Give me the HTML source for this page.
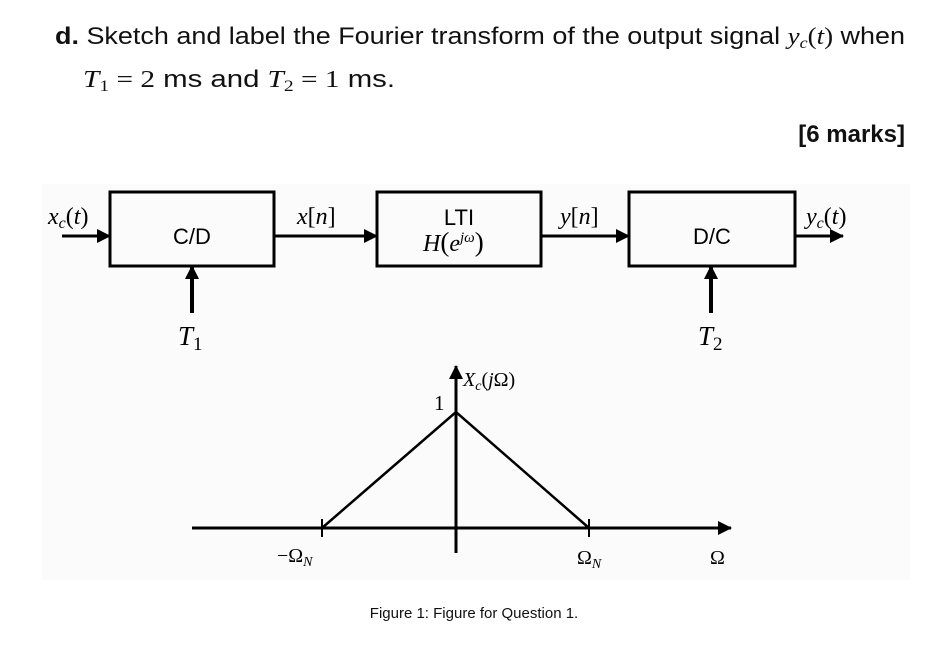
<!DOCTYPE html>
<html><head><style>
body{margin:0;width:949px;height:646px;background:#fff;overflow:hidden;font-family:"Liberation Sans",sans-serif;}
svg{position:absolute;left:0;top:0}
</style></head><body>
<svg width="949" height="646" viewBox="0 0 949 646">
<defs>
<marker id="b" markerWidth="14" markerHeight="14" refX="13" refY="7" orient="auto" markerUnits="userSpaceOnUse"><path d="M0,0 L14,7 L0,14z" fill="#000"/></marker></defs>
<g font-size="24" fill="#111">
<text x="55" y="44" textLength="850" lengthAdjust="spacingAndGlyphs"><tspan font-weight="bold">d.</tspan> Sketch and label the Fourier transform of the output signal <tspan font-family="Liberation Serif" font-style="italic">y<tspan font-size="16" dy="4">c</tspan><tspan dy="-4" font-style="normal">(</tspan>t<tspan font-style="normal">)</tspan></tspan> when</text>
<text x="83" y="87" textLength="312" lengthAdjust="spacingAndGlyphs"><tspan font-family="Liberation Serif" font-style="italic">T</tspan><tspan font-family="Liberation Serif" font-size="16" dy="4">1</tspan><tspan dy="-4" font-family="Liberation Serif"> = 2</tspan> ms and <tspan font-family="Liberation Serif" font-style="italic">T</tspan><tspan font-family="Liberation Serif" font-size="16" dy="4">2</tspan><tspan dy="-4" font-family="Liberation Serif"> = 1</tspan> ms.</text>
<text x="905" y="142" text-anchor="end" font-weight="bold">[6 marks]</text>
</g>
<rect x="42" y="184" width="868" height="396" fill="#fbfbfb"/>
<g stroke="#000" stroke-width="3" fill="none">
<rect x="110" y="192" width="164" height="74"/>
<rect x="377" y="192" width="164" height="74"/>
<rect x="629" y="192" width="166" height="74"/>
<line x1="62" y1="236" x2="110" y2="236" marker-end="url(#b)"/>
<line x1="274" y1="236" x2="377" y2="236" marker-end="url(#b)"/>
<line x1="541" y1="236" x2="629" y2="236" marker-end="url(#b)"/>
<line x1="795" y1="236" x2="843" y2="236" marker-end="url(#b)"/>
<line x1="192" y1="313" x2="192" y2="266" stroke-width="4" marker-end="url(#b)"/>
<line x1="711" y1="313" x2="711" y2="266" stroke-width="4" marker-end="url(#b)"/>
<line x1="192" y1="528" x2="731" y2="528" marker-end="url(#b)"/>
<line x1="456" y1="553" x2="456" y2="366" marker-end="url(#b)"/>
<polyline points="322,528 456,412 589,528" stroke-width="2.5"/>
<line x1="322" y1="519" x2="322" y2="537" stroke-width="2"/>
<line x1="589" y1="519" x2="589" y2="537" stroke-width="2"/>
</g>
<g font-family="Liberation Sans" font-size="22" text-anchor="middle" fill="#000">
<text x="192" y="244">C/D</text>
<text x="459" y="225">LTI</text>
<text x="712" y="244">D/C</text>
</g>
<g font-family="Liberation Serif" font-style="italic" font-size="24" fill="#000">
<text x="48" y="224">x<tspan font-size="16" dy="4">c</tspan><tspan dy="-4" font-style="normal">(</tspan>t<tspan font-style="normal">)</tspan></text>
<text x="297" y="224">x<tspan font-style="normal">[</tspan>n<tspan font-style="normal">]</tspan></text>
<text x="423" y="251">H<tspan font-style="normal" font-size="27">(</tspan>e<tspan font-size="15" dy="-9">jω</tspan><tspan dy="9" font-style="normal" font-size="27">)</tspan></text>
<text x="560" y="224">y<tspan font-style="normal">[</tspan>n<tspan font-style="normal">]</tspan></text>
<text x="806" y="224">y<tspan font-size="16" dy="4">c</tspan><tspan dy="-4" font-style="normal">(</tspan>t<tspan font-style="normal">)</tspan></text>
<text x="178" y="345" font-size="27">T<tspan font-style="normal" font-size="19" dy="5">1</tspan></text>
<text x="698" y="345" font-size="27">T<tspan font-style="normal" font-size="19" dy="5">2</tspan></text>
<text x="463" y="386" font-size="20">X<tspan font-size="14" dy="4">c</tspan><tspan dy="-4" font-style="normal">(</tspan>j<tspan font-style="normal">Ω)</tspan></text>
<text x="434" y="410" font-size="21" font-style="normal">1</text>
<text x="277" y="562" font-size="20"><tspan font-style="normal">−Ω</tspan><tspan font-size="14" dy="4">N</tspan></text>
<text x="577" y="564" font-size="20"><tspan font-style="normal">Ω</tspan><tspan font-size="14" dy="4">N</tspan></text>
<text x="710" y="564" font-size="20" font-style="normal">Ω</text>
</g>
<text x="474" y="618" font-size="15" text-anchor="middle" fill="#111">Figure 1: Figure for Question 1.</text>
</svg>
</body></html>
